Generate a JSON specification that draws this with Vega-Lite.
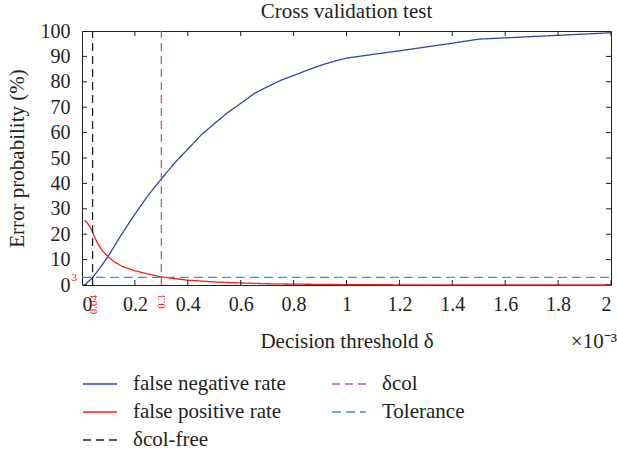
{
  "$schema": "https://vega.github.io/schema/vega-lite/v6.json",
  "width": 529,
  "height": 254,
  "autosize": {"type": "none"},
  "padding": {"left": 82, "top": 31, "right": 6, "bottom": 166},
  "title": {
    "text": "Cross validation test",
    "frame": "group",
    "font": "Liberation Serif",
    "fontSize": 21,
    "fontWeight": "normal",
    "color": "#231f20",
    "offset": -1
  },
  "config": {
    "font": "Liberation Serif",
    "view": {"stroke": "#231f20", "strokeWidth": 1},
    "text": {"font": "Liberation Serif"},
    "legend": {"labelFont": "Liberation Serif"},
    "axis": {
      "grid": false,
      "domain": false,
      "ticks": false,
      "tickCount": 10,
      "labelFont": "Liberation Serif",
      "labelFontSize": 20,
      "labelColor": "#231f20",
      "titleFont": "Liberation Serif",
      "titleFontSize": 21,
      "titleFontWeight": "normal",
      "titleColor": "#231f20"
    }
  },
  "datasets": {
    "curves": [
      {"series": "false negative rate", "x": 0.01, "y": 0},
      {"series": "false negative rate", "x": 0.04, "y": 2.9},
      {"series": "false negative rate", "x": 0.07, "y": 7},
      {"series": "false negative rate", "x": 0.1, "y": 11.5},
      {"series": "false negative rate", "x": 0.15, "y": 20},
      {"series": "false negative rate", "x": 0.2, "y": 27.9},
      {"series": "false negative rate", "x": 0.25, "y": 35.3},
      {"series": "false negative rate", "x": 0.3, "y": 41.8},
      {"series": "false negative rate", "x": 0.35, "y": 48},
      {"series": "false negative rate", "x": 0.4, "y": 53.5},
      {"series": "false negative rate", "x": 0.45, "y": 59},
      {"series": "false negative rate", "x": 0.5, "y": 63.5},
      {"series": "false negative rate", "x": 0.55, "y": 67.8},
      {"series": "false negative rate", "x": 0.6, "y": 71.5},
      {"series": "false negative rate", "x": 0.65, "y": 75.3},
      {"series": "false negative rate", "x": 0.7, "y": 78},
      {"series": "false negative rate", "x": 0.75, "y": 80.5},
      {"series": "false negative rate", "x": 0.8, "y": 82.5},
      {"series": "false negative rate", "x": 0.85, "y": 84.5},
      {"series": "false negative rate", "x": 0.9, "y": 86.4},
      {"series": "false negative rate", "x": 0.95, "y": 88},
      {"series": "false negative rate", "x": 1.0, "y": 89.3},
      {"series": "false negative rate", "x": 1.1, "y": 90.8},
      {"series": "false negative rate", "x": 1.2, "y": 92.2},
      {"series": "false negative rate", "x": 1.3, "y": 93.7},
      {"series": "false negative rate", "x": 1.4, "y": 95.2},
      {"series": "false negative rate", "x": 1.5, "y": 96.8},
      {"series": "false negative rate", "x": 1.6, "y": 97.3},
      {"series": "false negative rate", "x": 1.7, "y": 97.8},
      {"series": "false negative rate", "x": 1.8, "y": 98.3},
      {"series": "false negative rate", "x": 1.9, "y": 98.8},
      {"series": "false negative rate", "x": 2.0, "y": 99.3},
      {"series": "false positive rate", "x": 0.01, "y": 25.5},
      {"series": "false positive rate", "x": 0.02, "y": 24.4},
      {"series": "false positive rate", "x": 0.03, "y": 22.9},
      {"series": "false positive rate", "x": 0.04, "y": 20.8},
      {"series": "false positive rate", "x": 0.05, "y": 18.3},
      {"series": "false positive rate", "x": 0.06, "y": 16.2},
      {"series": "false positive rate", "x": 0.07, "y": 14.6},
      {"series": "false positive rate", "x": 0.08, "y": 13.1},
      {"series": "false positive rate", "x": 0.1, "y": 11},
      {"series": "false positive rate", "x": 0.12, "y": 9.3},
      {"series": "false positive rate", "x": 0.15, "y": 7.4},
      {"series": "false positive rate", "x": 0.2, "y": 5.6},
      {"series": "false positive rate", "x": 0.25, "y": 4.3},
      {"series": "false positive rate", "x": 0.3, "y": 3.2},
      {"series": "false positive rate", "x": 0.35, "y": 2.5},
      {"series": "false positive rate", "x": 0.4, "y": 1.9},
      {"series": "false positive rate", "x": 0.5, "y": 1.2},
      {"series": "false positive rate", "x": 0.6, "y": 0.8},
      {"series": "false positive rate", "x": 0.7, "y": 0.5},
      {"series": "false positive rate", "x": 0.8, "y": 0.35},
      {"series": "false positive rate", "x": 0.9, "y": 0.25},
      {"series": "false positive rate", "x": 1.0, "y": 0.15},
      {"series": "false positive rate", "x": 1.2, "y": 0.08},
      {"series": "false positive rate", "x": 1.5, "y": 0.03},
      {"series": "false positive rate", "x": 2.0, "y": 0},
      {"series": "δcol-free", "x": 0.04, "y": 0},
      {"series": "δcol-free", "x": 0.04, "y": 100},
      {"series": "δcol", "x": 0.3, "y": 0},
      {"series": "δcol", "x": 0.3, "y": 100},
      {"series": "Tolerance", "x": 0, "y": 3},
      {"series": "Tolerance", "x": 2, "y": 3}
    ],
    "xTicks": [
      {"v": 0}, {"v": 0.2}, {"v": 0.4}, {"v": 0.6}, {"v": 0.8}, {"v": 1},
      {"v": 1.2}, {"v": 1.4}, {"v": 1.6}, {"v": 1.8}, {"v": 2}
    ],
    "yTicks": [
      {"v": 0}, {"v": 10}, {"v": 20}, {"v": 30}, {"v": 40}, {"v": 50},
      {"v": 60}, {"v": 70}, {"v": 80}, {"v": 90}, {"v": 100}
    ],
    "marks": [
      {"x": 0.04, "y": 0, "label": "0.04"},
      {"x": 0.3, "y": 0, "label": "0.3"}
    ],
    "tolerance": [
      {"x": 0, "y": 3, "label": "3"}
    ],
    "scaleNote": [
      {"x": 2, "y": 0, "label": "×10⁻³"}
    ]
  },
  "layer": [
    {
      "data": {"name": "curves"},
      "mark": {"type": "line", "strokeWidth": 1.3},
      "encoding": {
        "x": {
          "field": "x",
          "type": "quantitative",
          "scale": {"domain": [0, 2], "nice": false},
          "axis": {
            "orient": "bottom",
            "format": "~g",
            "labelPadding": 9,
            "title": "Decision threshold δ",
            "titlePadding": 16
          }
        },
        "y": {
          "field": "y",
          "type": "quantitative",
          "scale": {"domain": [0, 100], "nice": false},
          "axis": {
            "orient": "left",
            "labelPadding": 12,
            "title": "Error probability (%)",
            "titlePadding": 13
          }
        },
        "color": {
          "field": "series",
          "type": "nominal",
          "scale": {
            "domain": ["false negative rate", "false positive rate", "δcol-free", "δcol", "Tolerance"],
            "range": ["#3346a3", "#f4201e", "#231f20", "#b858b0", "#3f8fd6"]
          },
          "legend": {
            "orient": "none",
            "legendX": 0,
            "legendY": 335,
            "title": null,
            "columns": 2,
            "columnPadding": 43,
            "rowPadding": -8,
            "symbolType": "stroke",
            "symbolSize": 1156,
            "symbolStrokeWidth": 1.4,
            "labelOffset": 15,
            "labelFont": "Liberation Serif",
            "labelFontSize": 21,
            "labelColor": "#231f20",
            "labelLimit": 300
          }
        },
        "strokeDash": {
          "field": "series",
          "type": "nominal",
          "scale": {
            "domain": ["false negative rate", "false positive rate", "δcol-free", "δcol", "Tolerance"],
            "range": [[1, 0], [1, 0], [8, 5], [8, 5], [9, 5]]
          }
        }
      }
    },
    {
      "data": {"name": "marks"},
      "mark": {"type": "text", "angle": 270, "align": "right", "baseline": "middle", "dx": -10, "dy": 1, "fontSize": 11, "color": "#f4201e"},
      "encoding": {
        "x": {
          "field": "x",
          "type": "quantitative",
          "axis": {"orient": "top", "labels": false, "ticks": false, "title": null}
        },
        "y": {
          "field": "y",
          "type": "quantitative",
          "axis": {"orient": "right", "labels": false, "ticks": false, "title": null}
        },
        "text": {"field": "label"}
      }
    },
    {
      "data": {"name": "xTicks"},
      "mark": {"type": "tick", "orient": "vertical", "size": 10, "thickness": 1, "color": "#231f20", "opacity": 1, "clip": true},
      "encoding": {
        "x": {"field": "v", "type": "quantitative", "axis": null},
        "y": {"datum": 0, "type": "quantitative", "axis": null}
      }
    },
    {
      "data": {"name": "xTicks"},
      "mark": {"type": "tick", "orient": "vertical", "size": 10, "thickness": 1, "color": "#231f20", "opacity": 1, "clip": true},
      "encoding": {
        "x": {"field": "v", "type": "quantitative", "axis": null},
        "y": {"datum": 100, "type": "quantitative", "axis": null}
      }
    },
    {
      "data": {"name": "yTicks"},
      "mark": {"type": "tick", "orient": "horizontal", "size": 10, "thickness": 1, "color": "#231f20", "opacity": 1, "clip": true},
      "encoding": {
        "y": {"field": "v", "type": "quantitative", "axis": null},
        "x": {"datum": 0, "type": "quantitative", "axis": null}
      }
    },
    {
      "data": {"name": "yTicks"},
      "mark": {"type": "tick", "orient": "horizontal", "size": 10, "thickness": 1, "color": "#231f20", "opacity": 1, "clip": true},
      "encoding": {
        "y": {"field": "v", "type": "quantitative", "axis": null},
        "x": {"datum": 2, "type": "quantitative", "axis": null}
      }
    },
    {
      "data": {"name": "tolerance"},
      "mark": {"type": "text", "align": "right", "baseline": "middle", "dx": -5, "dy": 1, "fontSize": 11, "color": "#f4201e"},
      "encoding": {
        "x": {"field": "x", "type": "quantitative", "axis": null},
        "y": {"field": "y", "type": "quantitative", "axis": null},
        "text": {"field": "label"}
      }
    },
    {
      "data": {"name": "scaleNote"},
      "mark": {"type": "text", "align": "right", "baseline": "alphabetic", "dx": 6, "dy": 63, "fontSize": 21, "color": "#231f20"},
      "encoding": {
        "x": {"field": "x", "type": "quantitative", "axis": null},
        "y": {"field": "y", "type": "quantitative", "axis": null},
        "text": {"field": "label"}
      }
    }
  ]
}
